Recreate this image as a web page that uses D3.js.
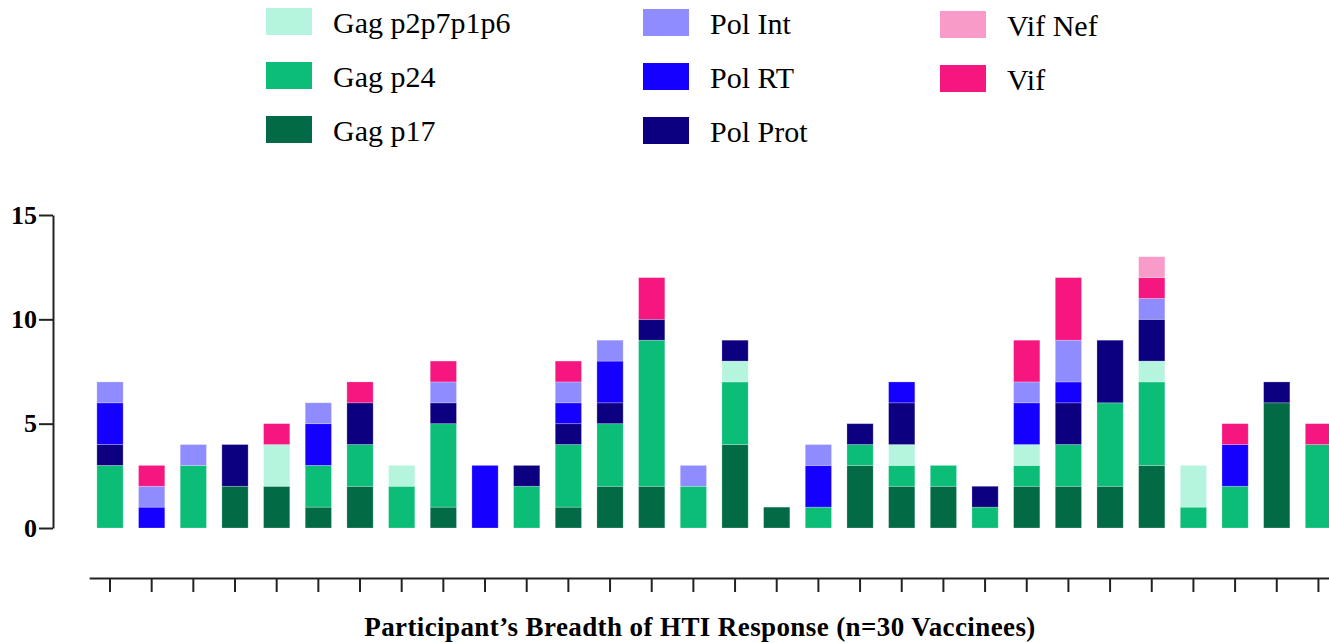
<!DOCTYPE html>
<html>
<head>
<meta charset="utf-8">
<script src="https://cdn.jsdelivr.net/npm/d3@7"></script>
<style>
  body { margin: 0; background: #fff; }
</style>
</head>
<body>
<svg id="chart" width="1329" height="643"></svg>
<script>
// participants 1..30
const participants = d3.range(1, 31);

// responses per antigen region, one value per participant
const gagP17    = [0,0,0,2,2,1,2,0,1,0,0,1,2,2,0,4,1,0,3,2,2,0,2,2,2,3,0,0,6,0];
const gagP24    = [3,0,3,0,0,2,2,2,4,0,2,3,3,7,2,3,0,1,1,1,1,1,1,2,4,4,1,2,0,4];
const gagP2p7   = [0,0,0,0,2,0,0,1,0,0,0,0,0,0,0,1,0,0,0,1,0,0,1,0,0,1,2,0,0,0];
const polProt   = [1,0,0,2,0,0,2,0,1,0,1,1,1,1,0,1,0,0,1,2,0,1,0,2,3,2,0,0,1,0];
const polRT     = [2,1,0,0,0,2,0,0,0,3,0,1,2,0,0,0,0,2,0,1,0,0,2,1,0,0,0,2,0,0];
const polInt    = [1,1,1,0,0,1,0,0,1,0,0,1,1,0,1,0,0,1,0,0,0,0,1,2,0,1,0,0,0,0];
const vif       = [0,1,0,0,1,0,1,0,1,0,0,1,0,2,0,0,0,0,0,0,0,0,2,3,0,1,0,1,0,1];
const vifNef    = [0,0,0,0,0,0,0,0,0,0,0,0,0,0,0,0,0,0,0,0,0,0,0,0,0,1,0,0,0,0];

// stacking order, bottom to top
const seriesNames = ["Gag p17", "Gag p24", "Gag p2p7p1p6", "Pol Prot", "Pol RT", "Pol Int", "Vif", "Vif Nef"];
const seriesValues = [gagP17, gagP24, gagP2p7, polProt, polRT, polInt, vif, vifNef];
const seriesColors = ["#036a46", "#0bbd77", "#b5f5de", "#0d0080", "#1500ff", "#8e8cff", "#f5167f", "#f99bc8"];

// legend columns
const legendColumns = [
  ["Gag p2p7p1p6", "Gag p24", "Gag p17"],
  ["Pol Int", "Pol RT", "Pol Prot"],
  ["Vif Nef", "Vif"]
];

const yTicks = [0, 5, 10, 15];
const xTitle = "Participant\u2019s Breadth of HTI Response (n=30 Vaccinees)";

const FONT = "'Liberation Serif', 'Times New Roman', serif";

const svg = d3.select("#chart");

const color = d3.scaleOrdinal().domain(seriesNames).range(seriesColors);

// table for d3.stack
const table = participants.map(function(p, i) {
  const row = { participant: p };
  seriesNames.forEach(function(s, j) { row[s] = seriesValues[j][i]; });
  return row;
});

const stacked = d3.stack().keys(seriesNames)(table);

const step = 41.67;
const x = d3.scaleBand()
  .domain(participants)
  .range([110 - step / 2, 110 + step * 29.5])
  .paddingInner(0.37)
  .paddingOuter(0.185);

const y = d3.scaleLinear().domain([0, 15]).range([528, 215]);

// bars
svg.append("g")
  .selectAll("g")
  .data(stacked)
  .join("g")
    .attr("fill", function(d) { return color(d.key); })
  .selectAll("rect")
  .data(function(d) { return d.filter(function(v) { return v[1] > v[0]; }); })
  .join("rect")
    .attr("x", function(d) { return x(d.data.participant); })
    .attr("y", function(d) { return y(d[1]); })
    .attr("width", x.bandwidth())
    .attr("height", function(d) { return y(d[0]) - y(d[1]); })
    .attr("stroke", "rgba(255,255,255,0.3)")
    .attr("stroke-width", 0.8);

// y axis
const yAxis = svg.append("g")
  .attr("transform", "translate(53,0)")
  .call(d3.axisLeft(y).tickValues(yTicks).tickSize(14).tickSizeOuter(0).tickPadding(2));
yAxis.attr("font-family", FONT);
yAxis.select(".domain").attr("stroke", "#222").attr("stroke-width", 2);
yAxis.selectAll(".tick line").attr("stroke", "#222").attr("stroke-width", 2);
yAxis.selectAll(".tick text")
  .attr("font-family", FONT)
  .attr("font-size", 26)
  .attr("font-weight", "bold")
  .attr("fill", "#000");

// x axis
const xAxis = svg.append("g")
  .attr("transform", "translate(0,578)")
  .call(d3.axisBottom(x).tickSize(14).tickSizeOuter(0).tickFormat(""));
xAxis.select(".domain").attr("stroke", "#222").attr("stroke-width", 2);
xAxis.selectAll(".tick line").attr("stroke", "#222").attr("stroke-width", 2);

svg.append("text")
  .attr("x", 700)
  .attr("y", 636)
  .attr("text-anchor", "middle")
  .attr("font-family", FONT)
  .attr("font-size", 27)
  .attr("font-weight", "bold")
  .attr("letter-spacing", 0.4)
  .text(xTitle);

// legend
const colX = [266, 643, 940];
const colY = [8, 9, 11];
const legend = svg.append("g");
legendColumns.forEach(function(col, c) {
  col.forEach(function(name, r) {
    const g = legend.append("g")
      .attr("transform", "translate(" + colX[c] + "," + (colY[c] + r * 54) + ")");
    g.append("rect")
      .attr("width", 46)
      .attr("height", 27)
      .attr("fill", color(name));
    g.append("text")
      .attr("x", 67)
      .attr("y", 25)
      .attr("font-family", FONT)
      .attr("font-size", 30)
      .attr("fill", "#000")
      .text(name);
  });
});
</script>
</body>
</html>
